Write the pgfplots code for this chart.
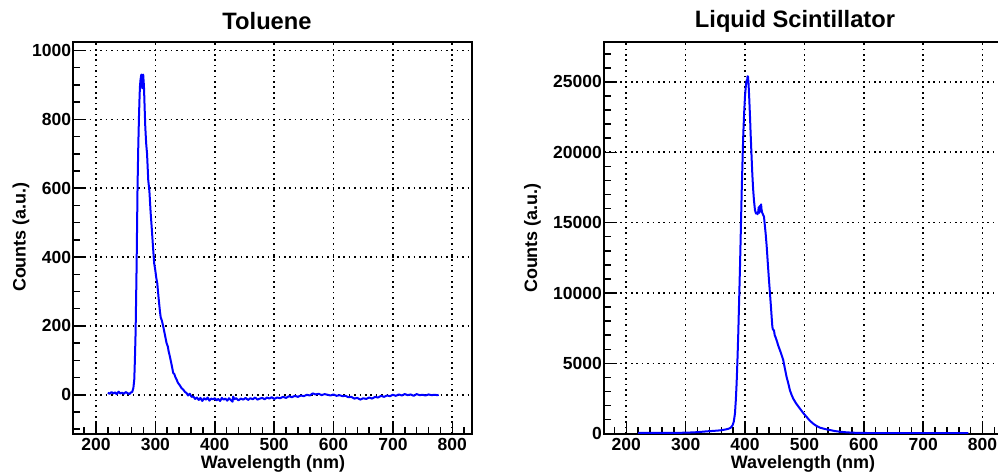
\documentclass[border=0pt]{standalone}
\usepackage{fontspec}
\setmainfont{Liberation Sans}
\usepackage{pgfplots}
\pgfplotsset{compat=1.18}
\definecolor{rootblue}{RGB}{0,0,255}
\pgfplotsset{
  rootstyle/.style={
    scale only axis, anchor=south west,
    width=398.4pt, height=391.5pt,
    xmin=161.8, xmax=832.7,
    axis line style={line width=2pt, black},
    tick align=inside, tick pos=left,
    major tick length=13pt, minor tick length=6.5pt,
    every tick/.style={black, line width=1.5pt},
    xtick={200,300,...,800},
    minor xtick={180,200,...,820},
    grid=major,
    major grid style={black, line width=1.6pt, dash pattern=on 1.6pt off 3.8pt, line cap=butt},
    /pgf/number format/assume math mode=true,
    /pgf/number format/1000 sep={},
    scaled ticks=false,
    ticklabel style={font=\bfseries\fontsize{17.5}{20}\selectfont},
    xticklabel style={inner sep=4pt},
    yticklabel style={inner sep=2pt},
  }
}
\begin{document}
\begin{tikzpicture}[x=1pt,y=1pt]
\begin{axis}[rootstyle, at={(73.3pt,38.3pt)},
  ymin=-113, ymax=1024,
  ytick={0,200,...,1000},
  minor ytick={-100,-50,...,1000}]
\addplot[rootblue, line width=2pt, line join=round] coordinates {
(220,6) (223,3) (226,8) (229,4) (232,7) (235,2) (238,9) (241,4) (244,6) (247,3)
(250,8) (253,5) (256,2) (259,7) (261,8) (263,20) (264.5,45) (265.5,100) (266.7,180)
(267.5,270) (268.4,373) (269.2,490) (270,605) (271.2,720) (272.4,808) (273.3,860)
(274,895) (275,915) (276.3,930) (277.3,905) (278,890) (278.8,910) (279.5,930)
(280.8,895) (282,830) (283,779) (284.5,730) (286,700) (288,624) (290,590) (292,530)
(293.7,489) (296,430) (298,382) (300,360) (301.5,340) (303.2,324) (305.5,280)
(307.7,242) (309,225) (311,215) (313.3,198) (316,175) (318.9,150) (321,140)
(322.5,125) (324.5,111) (327,90) (330.1,63) (332,60) (334,50) (335.8,44) (338,35)
(341,28) (344.2,19) (347,15) (350,8) (352.6,5) (355,-2) (358,3) (361,-6) (364,-5)
(367,-12) (370,-8) (373,-15) (376,-9) (379,-18) (382,-10) (385,-14) (388,-8)
(391,-17) (394,-11) (397,-13) (400,-10) (403,-16) (406,-12) (409,-18) (412,-9)
(415,-14) (418,-11) (421,-17) (424,-10) (427,-15) (430,-20) (431,-5) (433,-13)
(436,-10) (440,-16) (444,-11) (448,-14) (452,-9) (456,-15) (460,-10) (464,-13)
(468,-8) (472,-14) (476,-11) (480,-9) (484,-13) (488,-8) (492,-11) (496,-7)
(500,-12) (505,-8) (510,-10) (515,-6) (520,-9) (525,-4) (530,-7) (535,-3) (540,-6)
(545,-2) (550,-4) (555,0) (560,-2) (565,4) (570,1) (575,3) (580,-1) (585,2) (590,0)
(595,-2) (600,1) (605,-3) (610,-1) (615,-4) (620,-3) (625,-7) (630,-6) (635,-11)
(640,-9) (645,-14) (650,-10) (655,-12) (660,-8) (665,-11) (670,-6) (675,-8)
(680,-3) (685,-6) (690,-2) (695,-4) (700,0) (705,-3) (710,1) (715,-2) (720,2)
(725,-1) (730,1) (735,-3) (740,2) (745,-1) (750,0) (755,-2) (760,1) (765,-1)
(770,0) (775,-1) (777,0)
};
\end{axis}
\begin{axis}[rootstyle, at={(604pt,38.3pt)},
  xmin=162.5, xmax=833.4,
  ymin=0, ymax=27825,
  ytick={0,5000,...,25000},
  minor ytick={1000,2000,...,27000}]
\addplot[rootblue, line width=2pt, line join=round] coordinates {
(220,50) (240,55) (260,58) (280,62) (300,70) (320,110) (335,166) (350,210)
(358,237) (366,290) (372,350) (376,430) (379,600) (381,850) (383,1420)
(384.5,2400) (385.8,3560) (387.2,5200) (388.6,7116) (390,9400) (391.5,11860)
(393,14600) (394.3,17080) (395.7,19300) (397.1,21350) (398.5,22800) (399.9,23960)
(401.3,24700) (402.7,25140) (403.5,25000) (404.2,25400) (405,25380) (406,24800)
(407.2,23720) (408.3,22600) (409.4,21350) (410.8,19900) (412.2,18500)
(413.6,17400) (415,16600) (416.7,15900) (418.4,15650) (420,15700) (421,15600)
(422.3,15800) (423,16100) (424,15700) (425.1,16200) (426,15800) (427,16300)
(427.9,15900) (429,15700) (430,15600) (431.9,15420) (434.7,14230) (436.5,13300)
(438,12330) (440,11100) (442,9960) (443.5,9100) (444.8,8300) (446,7600)
(447,7400) (448.7,7350) (450,7000) (451,6900) (453.2,6640) (456,6250)
(458.8,5930) (461.5,5600) (464.4,5220) (467,4650) (470,4030) (473,3550)
(475.6,3080) (478.5,2750) (481.2,2490) (486,2150) (492.5,1780) (498,1470)
(503.7,1190) (509,930) (514.9,710) (520,560) (526.1,430) (535,330) (543,260)
(551,190) (559.8,140) (570,100) (582,70) (595,55) (604.7,50) (650,45) (700,45)
(750,45) (776,45)
};
\end{axis}
\node[font=\bfseries\fontsize{23.7}{28}\selectfont] at (267pt,451pt) {Toluene};
\node[font=\bfseries\fontsize{23.7}{28}\selectfont] at (795pt,451pt) {Liquid Scintillator};
\node[font=\bfseries\fontsize{18}{21}\selectfont, anchor=base, inner sep=0pt] at (273pt,4pt) {Wavelength (nm)};
\node[font=\bfseries\fontsize{18}{21}\selectfont, anchor=base, inner sep=0pt] at (803pt,4pt) {Wavelength (nm)};
\node[font=\bfseries\fontsize{18}{21}\selectfont, anchor=base, inner sep=0pt, rotate=90] at (25.5pt,235pt) {Counts (a.u.)};
\node[font=\bfseries\fontsize{18}{21}\selectfont, anchor=base, inner sep=0pt, rotate=90] at (537pt,234pt) {Counts (a.u.)};
\pgfresetboundingbox
\useasboundingbox (0pt,0pt) rectangle (998pt,472pt);
\end{tikzpicture}
\end{document}
